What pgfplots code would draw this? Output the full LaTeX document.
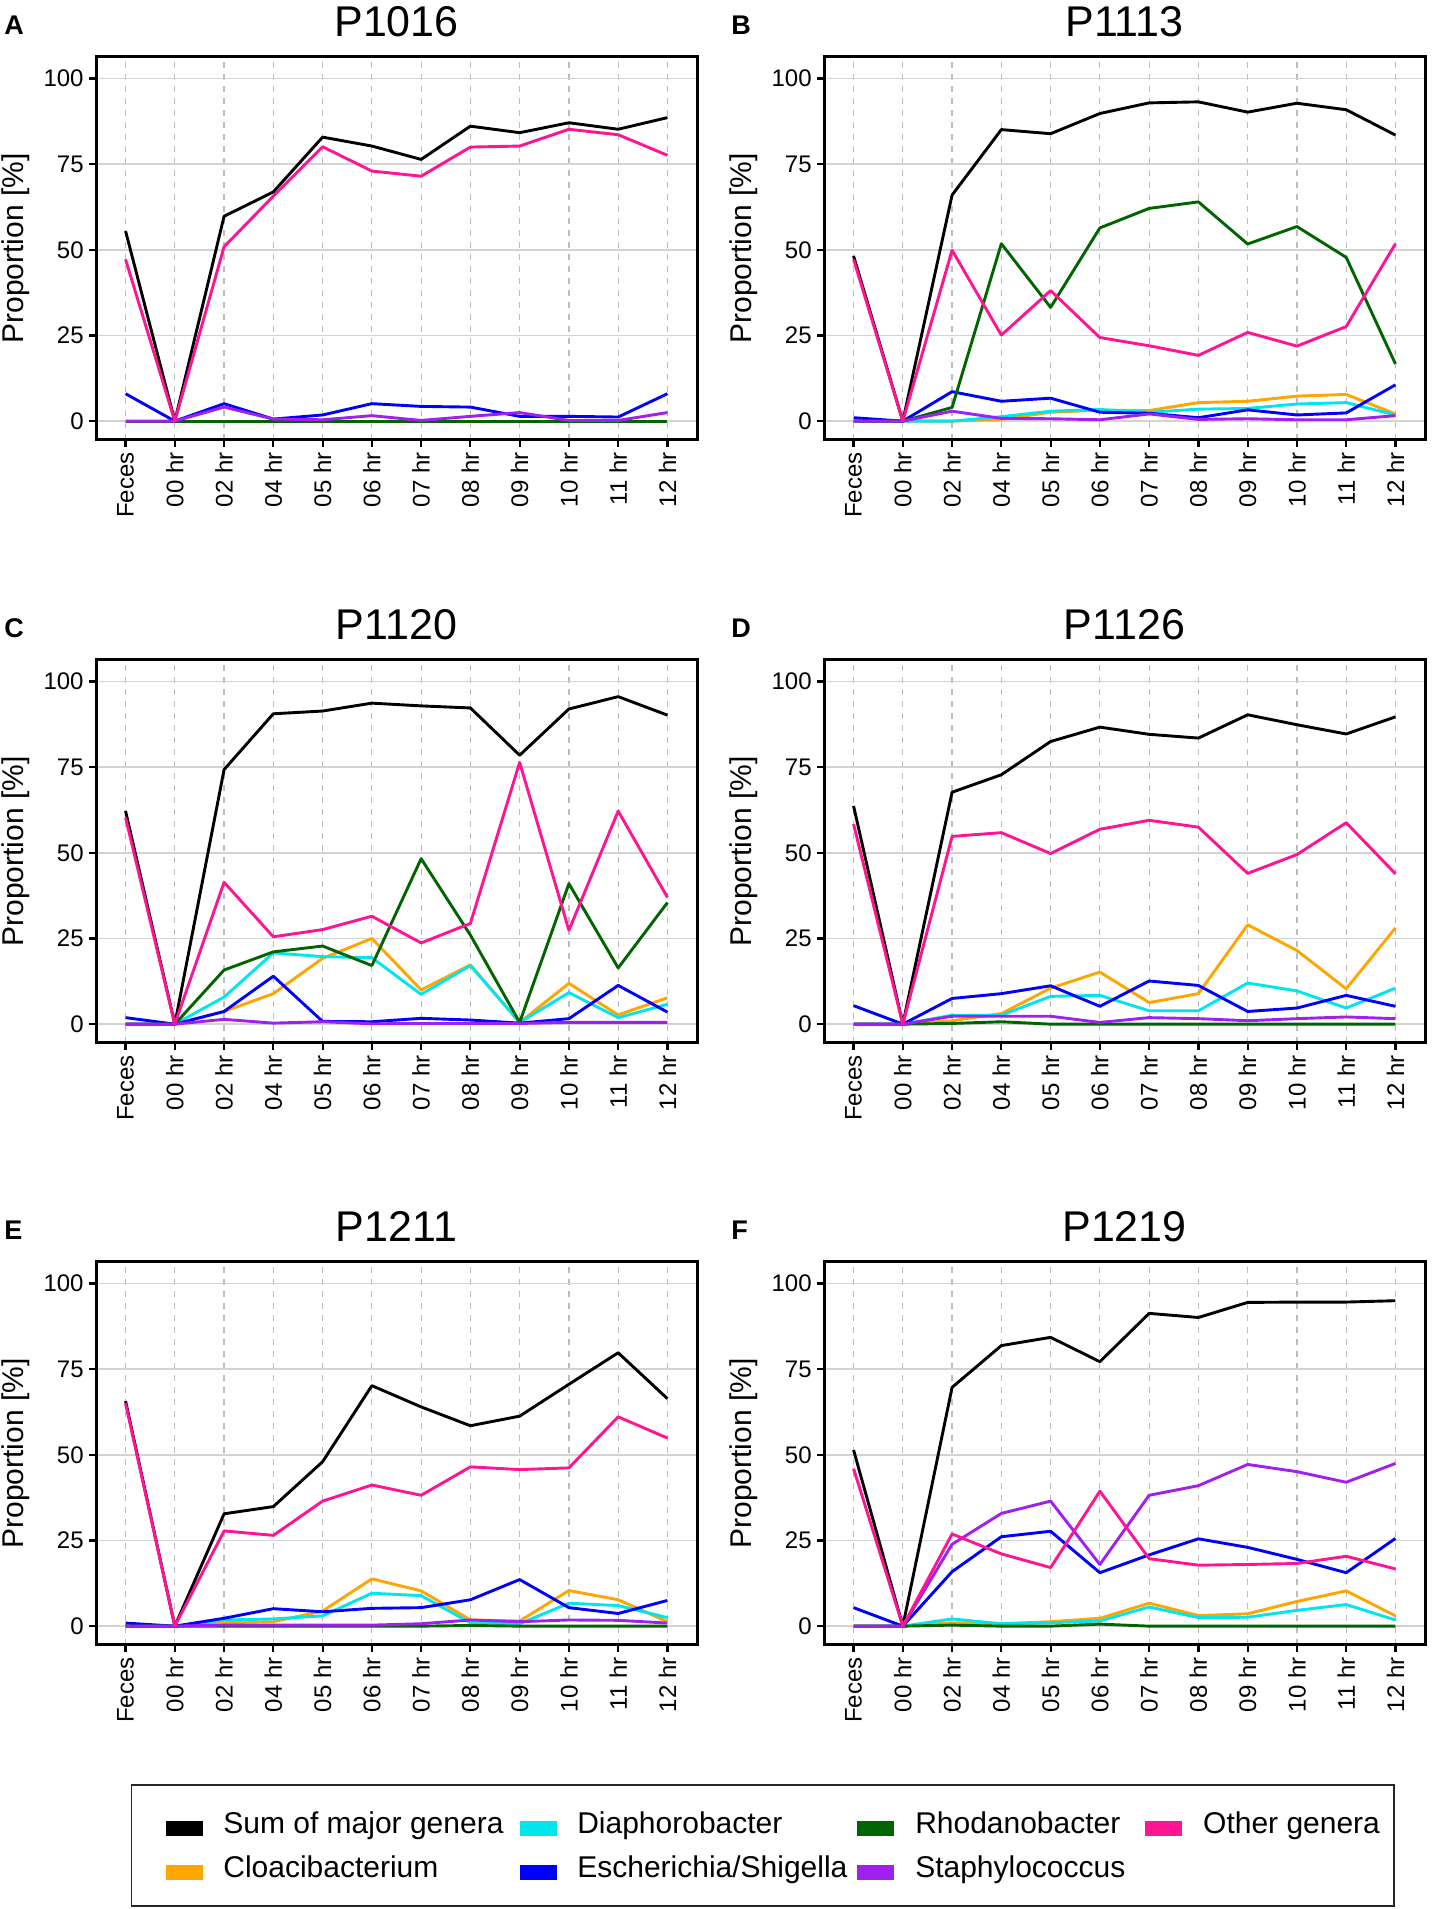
\documentclass[border=0pt]{standalone}
\usepackage{fontspec}
\setmainfont{Liberation Sans}
\usepackage{pgfplots}
\usepackage{pgfplotstable}
\pgfplotsset{compat=1.18}
\definecolor{cOrange}{HTML}{FFA500}
\definecolor{cCyan}{HTML}{00E5EE}
\definecolor{cGreen}{HTML}{006400}
\definecolor{cBlue}{HTML}{0000FF}
\definecolor{cPurple}{HTML}{A020F0}
\definecolor{cPink}{HTML}{FF1493}
\definecolor{gridgray}{HTML}{D3D3D3}
\definecolor{dashgray}{HTML}{BDBDBD}

\pgfplotstableread{
x sum clo dia esc rho sta oth
0 55.5 0 0 8.0 0 0 47.2
1 0 0 0 0 0 0 0
2 59.8 0 0 5.1 0 4.1 50.9
3 66.9 0 0 0.6 0 0.6 65.7
4 82.9 0 0 1.8 0 0.4 80.1
5 80.3 0 0 5.1 0 1.6 73.0
6 76.4 0 0 4.3 0 0.2 71.5
7 86.1 0 0 4.1 0 1.4 80.0
8 84.2 0 0 1.4 0 2.5 80.3
9 87.1 0 0 1.4 0 0.2 85.2
10 85.2 0 0 1.2 0 0.2 83.6
11 88.6 0 0 8.0 0 2.5 77.6
}\tA
\pgfplotstableread{
x sum clo dia esc rho sta oth
0 48.2 0 0 1.0 0 0 47.2
1 0 0 0 0 0 0 0
2 66.0 0 0 8.6 4.0 2.9 49.9
3 85.1 0.5 1.3 5.8 51.8 0.8 25.1
4 83.9 2.6 2.9 6.7 33.2 0.7 38.1
5 89.8 3.2 3.4 2.6 56.4 0.4 24.4
6 92.9 3.1 2.6 2.3 62.1 2.1 22.0
7 93.2 5.4 3.5 1.0 64.0 0.5 19.2
8 90.2 5.8 3.7 3.3 51.7 0.7 25.9
9 92.8 7.3 5.0 1.8 56.8 0.4 21.9
10 90.9 7.8 5.4 2.4 47.8 0.4 27.6
11 83.5 2.1 1.8 10.6 16.7 1.6 51.8
}\tB
\pgfplotstableread{
x sum clo dia esc rho sta oth
0 62.2 0 0 1.9 0 0 60.3
1 0 0 0 0 0 0 0
2 74.3 3.7 7.9 3.7 15.8 1.4 41.4
3 90.6 8.9 20.8 14.0 21.1 0.3 25.5
4 91.4 19.2 19.7 0.8 22.8 0.7 27.6
5 93.7 25.0 19.4 0.7 17.1 0.1 31.5
6 92.9 10.0 8.7 1.7 48.3 0.2 23.7
7 92.3 17.3 17.1 1.2 26.0 0.2 29.4
8 78.5 0.5 0.5 0.3 0.5 0.2 76.4
9 92.0 11.9 9.2 1.6 41.0 0.5 27.4
10 95.6 2.7 1.9 11.3 16.4 0.5 62.2
11 90.2 7.7 5.8 3.5 35.5 0.5 37.0
}\tC
\pgfplotstableread{
x sum clo dia esc rho sta oth
0 63.7 0 0 5.4 0 0 58.4
1 0 0 0 0 0 0 0
2 67.7 1.0 2.6 7.5 0.2 2.3 54.8
3 72.8 3.1 2.6 8.9 0.7 2.3 55.9
4 82.5 10.5 8.1 11.2 0 2.3 49.8
5 86.7 15.2 8.4 5.2 0 0.5 56.9
6 84.6 6.3 3.9 12.6 0 1.9 59.5
7 83.5 8.9 3.9 11.3 0 1.6 57.5
8 90.3 29.0 12.0 3.7 0 1.0 44.0
9 87.4 21.5 9.7 4.7 0 1.6 49.5
10 84.7 10.3 4.7 8.4 0 2.1 58.8
11 89.7 28.1 10.5 5.2 0 1.6 43.9
}\tD
\pgfplotstableread{
x sum clo dia esc rho sta oth
0 65.7 0 0 0.9 0 0 65.0
1 0 0 0 0 0 0 0
2 32.8 1.0 1.8 2.3 0 0.3 27.8
3 34.9 1.3 2.1 5.1 0 0.3 26.5
4 48.0 4.4 3.0 4.2 0 0.3 36.5
5 70.2 13.8 9.6 5.2 0 0.3 41.2
6 64.0 10.3 8.9 5.4 0 0.7 38.2
7 58.5 1.8 1.0 7.7 0.2 1.8 46.5
8 61.3 1.5 0.7 13.6 0 1.3 45.7
9 70.6 10.4 6.7 5.4 0 1.8 46.2
10 79.8 7.7 6.0 3.7 0 1.7 61.1
11 66.4 1.3 2.5 7.5 0 0.9 54.9
}\tE
\pgfplotstableread{
x sum clo dia esc rho sta oth
0 51.4 0 0 5.4 0 0 46.0
1 0 0 0 0 0 0 0
2 69.7 1.0 2.1 15.9 0.3 23.9 26.9
3 81.9 0.7 0.7 26.1 0 32.9 21.1
4 84.3 1.3 1.0 27.7 0 36.5 17.1
5 77.2 2.3 1.5 15.6 0.6 18.0 39.4
6 91.3 6.7 5.6 20.8 0 38.2 19.7
7 90.1 3.1 2.5 25.5 0 41.0 17.8
8 94.5 3.6 2.6 23.0 0 47.2 18.0
9 94.6 7.2 4.6 19.5 0 45.1 18.3
10 94.6 10.3 6.3 15.6 0 42.0 20.4
11 95.0 3.0 1.8 25.6 0 47.5 16.7
}\tF

\newcommand{\panelplots}[1]{%
  \addplot[color=black] table[x=x,y=sum]{#1};
  \addplot[color=cOrange] table[x=x,y=clo]{#1};
  \addplot[color=cCyan] table[x=x,y=dia]{#1};
  \addplot[color=cBlue] table[x=x,y=esc]{#1};
  \addplot[color=cGreen] table[x=x,y=rho]{#1};
  \addplot[color=cPurple] table[x=x,y=sta]{#1};
  \addplot[color=cPink] table[x=x,y=oth]{#1};
}

\pgfplotsset{
  panel/.style={
    scale only axis, width=300.5bp, height=191.5bp, anchor=north west,
    xmin=-0.6, xmax=11.6, ymin=-5.5, ymax=106.3,
    xtick={0,...,11},
    xticklabels={Feces,00 hr,02 hr,04 hr,05 hr,06 hr,07 hr,08 hr,09 hr,10 hr,11 hr,12 hr},
    ytick={0,25,50,75,100},
    xmajorgrids, ymajorgrids,
    x grid style={dashgray, line width=0.6bp, dash pattern=on 3bp off 3bp},
    y grid style={gridgray, line width=0.9bp},
    axis line style={line width=1.5bp, black},
    tick style={black, line width=1.1bp},
    major tick length=3.5bp, tick align=outside,
    xtick pos=left, ytick pos=left,
    ticklabel style={font=\fontsize{12bp}{14bp}\selectfont},
    xticklabel style={rotate=90, anchor=east, inner sep=2.5bp},
    yticklabel style={inner sep=2.5bp},
    /pgf/number format/assume math mode=true,
    ylabel={Proportion [\%]},
    ylabel style={font=\fontsize{15bp}{18bp}\selectfont, inner sep=0pt, at={(axis description cs:-0.133,0.5)}, anchor=center},
    every axis title/.style={font=\fontsize{21.5bp}{25bp}\selectfont, inner sep=0pt, at={(0.5,1)}, anchor=base, yshift=10bp},
    every axis plot/.append style={line width=1.45bp, mark=none, line join=round},
  }
}

\begin{document}
\begin{tikzpicture}
\path (0,0) rectangle (717.5bp,954.5bp);

\begin{axis}[panel, at={(48bp,926bp)}, title={P1016}]
\panelplots{\tA}
\end{axis}
\begin{axis}[panel, at={(412bp,926bp)}, title={P1113}]
\panelplots{\tB}
\end{axis}
\begin{axis}[panel, at={(48bp,624.5bp)}, title={P1120}]
\panelplots{\tC}
\end{axis}
\begin{axis}[panel, at={(412bp,624.5bp)}, title={P1126}]
\panelplots{\tD}
\end{axis}
\begin{axis}[panel, at={(48bp,323.5bp)}, title={P1211}]
\panelplots{\tE}
\end{axis}
\begin{axis}[panel, at={(412bp,323.5bp)}, title={P1219}]
\panelplots{\tF}
\end{axis}

\foreach \lx/\ly/\lt in {2bp/937bp/A, 365.5bp/937bp/B, 2bp/635.5bp/C, 365.5bp/635.5bp/D, 2bp/334.5bp/E, 365.5bp/334.5bp/F}
  \node[anchor=base west, inner sep=0pt, font=\fontsize{13.5bp}{15bp}\selectfont\bfseries] at (\lx,\ly) {\lt};

\draw[line width=0.9bp, black!85] (65.75bp,62bp) rectangle (697bp,1.5bp);

\begin{axis}[hide axis, scale only axis, anchor=north west, at={(65.75bp,62bp)},
  width=631.25bp, height=60.5bp, xmin=0, xmax=1, ymin=0, ymax=1,
  legend columns=4,
  legend cell align=left,
  legend image code/.code={\fill[#1] (0bp,-3.4bp) rectangle (18bp,3.4bp);},
  legend style={at={(0.027,0.46)}, anchor=west, draw=none, fill=none,
    inner sep=0pt, outer sep=0pt, row sep=12.8bp,
    font=\fontsize{15bp}{18bp}\selectfont,
    nodes={inner sep=0pt, text height=0.72em, text depth=0.21em},
    /tikz/every odd column/.style={column sep=10.5bp},
    /tikz/column 2/.style={column sep=8bp},
    /tikz/column 4/.style={column sep=5bp},
    /tikz/column 6/.style={column sep=10bp}}]
\addlegendimage{color=black}\addlegendentry{Sum of major genera}
\addlegendimage{color=cCyan}\addlegendentry{Diaphorobacter}
\addlegendimage{color=cGreen}\addlegendentry{Rhodanobacter}
\addlegendimage{color=cPink}\addlegendentry{Other genera}
\addlegendimage{color=cOrange}\addlegendentry{Cloacibacterium}
\addlegendimage{color=cBlue}\addlegendentry{Escherichia/Shigella}
\addlegendimage{color=cPurple}\addlegendentry{Staphylococcus}
\end{axis}
\end{tikzpicture}
\end{document}
